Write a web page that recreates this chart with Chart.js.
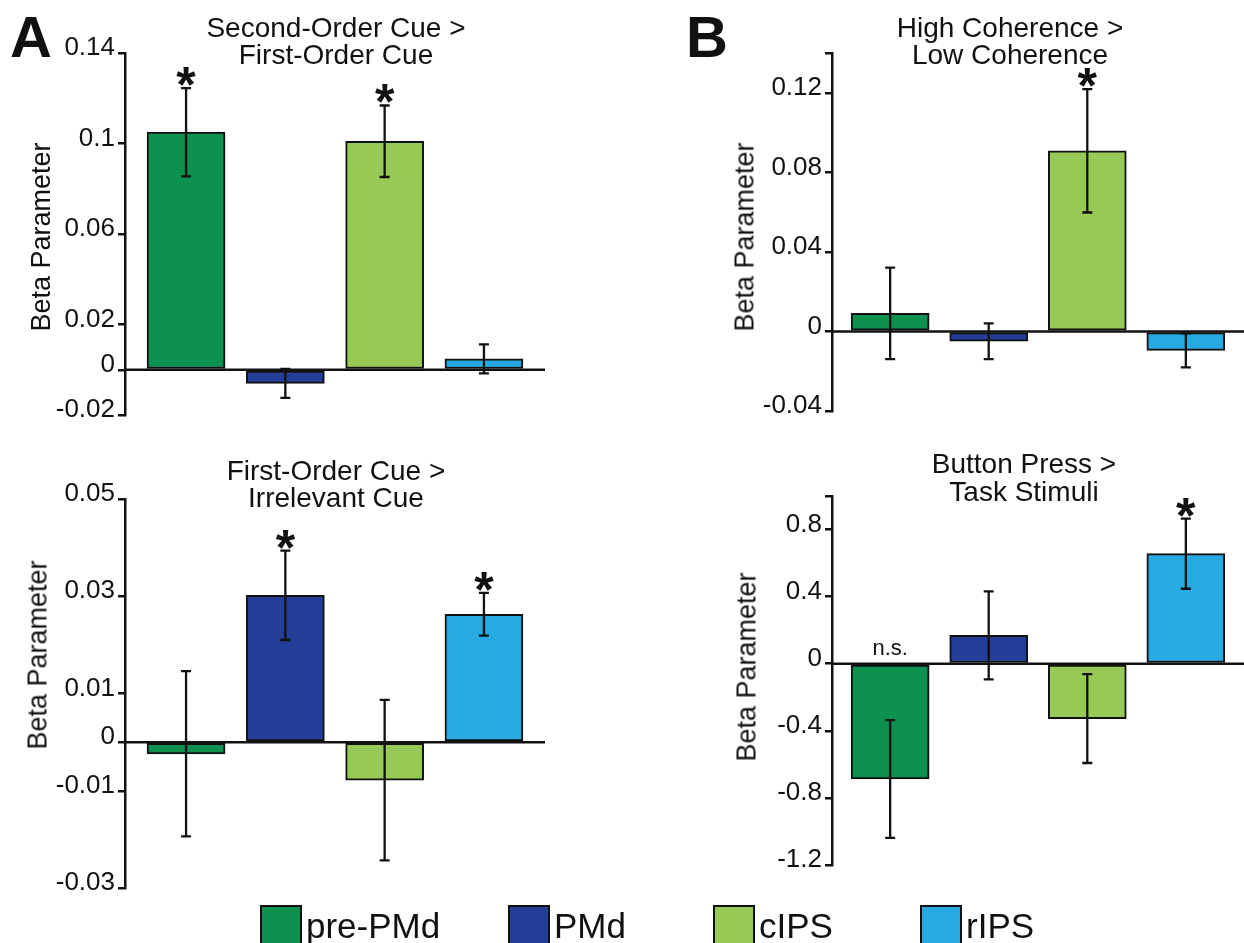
<!DOCTYPE html>
<html>
<head>
<meta charset="utf-8">
<script src="https://cdn.jsdelivr.net/npm/chart.js@4.4.1/dist/chart.umd.min.js"></script>
<style>
  html, body { margin: 0; padding: 0; background: #fff; }
  #wrap { position: relative; width: 1244px; height: 943px; overflow: hidden;
          font-family: "Liberation Sans", Arial, Helvetica, sans-serif; color: #111; }
  #wrap canvas { position: absolute; }
  .t { position: absolute; white-space: nowrap; transform: translateX(-50%); font-size: 28px; line-height: 28px; }
  .yl { position: absolute; white-space: nowrap; font-size: 27px; line-height: 27px;
        transform: translate(-50%, -50%) rotate(-90deg); }
  .pl { position: absolute; font-weight: bold; font-size: 58px; line-height: 58px; }
  .lgbox { position: absolute; width: 42px; height: 60px; border: 2px solid #111; box-sizing: border-box; }
  .lgtxt { position: absolute; white-space: nowrap; font-size: 35px; line-height: 35px; }
</style>
</head>
<body>
<div id="wrap"></div>
<script>
// ---------------- DATA ----------------
const regions = ['pre-PMd', 'PMd', 'cIPS', 'rIPS'];

// A (top): Second-Order Cue > First-Order Cue
const secondVsFirstTitle = ['Second-Order Cue >', 'First-Order Cue'];
const secondVsFirstValues = [0.105, -0.006, 0.101, 0.0048];
const secondVsFirstSem = [0.0195, 0.0064, 0.0158, 0.0064];
const secondVsFirstMarks = ['*', '', '*', ''];
const secondVsFirstTicks = [0.14, 0.1, 0.06, 0.02, 0, -0.02];
const secondVsFirstTickLabels = ['0.14', '0.1', '0.06', '0.02', '0', '-0.02'];

// A (bottom): First-Order Cue > Irrelevant Cue
const firstVsIrrelTitle = ['First-Order Cue >', 'Irrelevant Cue'];
const firstVsIrrelValues = [-0.0024, 0.0302, -0.0078, 0.0263];
const firstVsIrrelSem = [0.017, 0.0092, 0.0165, 0.0044];
const firstVsIrrelMarks = ['', '*', '', '*'];
const firstVsIrrelTicks = [0.05, 0.03, 0.01, 0, -0.01, -0.03];
const firstVsIrrelTickLabels = ['0.05', '0.03', '0.01', '0', '-0.01', '-0.03'];

// B (top): High Coherence > Low Coherence
const cohTitle = ['High Coherence >', 'Low Coherence'];
const cohValues = [0.0091, -0.0049, 0.0908, -0.0095];
const cohSem = [0.023, 0.009, 0.031, 0.0086];
const cohMarks = ['', '', '*', ''];
const cohTicks = [0.14, 0.12, 0.08, 0.04, 0, -0.04];
const cohTickLabels = ['', '0.12', '0.08', '0.04', '0', '-0.04'];

// B (bottom): Button Press > Task Stimuli
const buttonTitle = ['Button Press >', 'Task Stimuli'];
const buttonValues = [-0.687, 0.169, -0.327, 0.656];
const buttonSem = [0.351, 0.262, 0.265, 0.209];
const buttonMarks = ['n.s.', '', '', '*'];
const buttonTicks = [1.0, 0.8, 0.4, 0, -0.4, -0.8, -1.2];
const buttonTickLabels = ['', '0.8', '0.4', '0', '-0.4', '-0.8', '-1.2'];

const axisLabel = 'Beta Parameter';
const panelLetters = ['A', 'B'];

// ---------------- STYLE / LAYOUT ----------------
const regionColors = ['#0d9150', '#233f98', '#96c955', '#27aae1'];
const FAMILY = '"Liberation Sans", Arial, Helvetica, sans-serif';
const wrap = document.getElementById('wrap');

const panels = [
  { title: secondVsFirstTitle, values: secondVsFirstValues, sem: secondVsFirstSem, marks: secondVsFirstMarks,
    ticks: secondVsFirstTicks, tickLabels: secondVsFirstTickLabels,
    left: 125, right: 545, top: 53, bottom: 415, xMin: -0.615, xMax: 3.615,
    titleX: 336, titleBase: [38, 65], ylX: 41, ylY: 237 },
  { title: firstVsIrrelTitle, values: firstVsIrrelValues, sem: firstVsIrrelSem, marks: firstVsIrrelMarks,
    ticks: firstVsIrrelTicks, tickLabels: firstVsIrrelTickLabels,
    left: 125, right: 545, top: 499, bottom: 888, xMin: -0.615, xMax: 3.615,
    titleX: 336, titleBase: [481, 508], ylX: 38, ylY: 655 },
  { title: cohTitle, values: cohValues, sem: cohSem, marks: cohMarks,
    ticks: cohTicks, tickLabels: cohTickLabels,
    left: 832, right: 1244, top: 53, bottom: 411, xMin: -0.59, xMax: 3.59,
    titleX: 1010, titleBase: [38, 65], ylX: 745, ylY: 237 },
  { title: buttonTitle, values: buttonValues, sem: buttonSem, marks: buttonMarks,
    ticks: buttonTicks, tickLabels: buttonTickLabels,
    left: 832, right: 1244, top: 496, bottom: 865, xMin: -0.59, xMax: 3.59,
    titleX: 1024, titleBase: [474, 502], ylX: 747, ylY: 667 }
];

const panelPlugin = {
  id: 'panelMarks',
  afterDatasetsDraw(chart, args, opts) {
    const p = opts.panel;
    const ctx = chart.ctx, a = chart.chartArea, xs = chart.scales.x, ys = chart.scales.y;
    ctx.save();
    const y0 = ys.getPixelForValue(0);
    ctx.strokeStyle = '#111';
    ctx.lineWidth = 2.5;
    ctx.beginPath(); ctx.moveTo(a.left, y0); ctx.lineTo(a.right, y0); ctx.stroke();
    ctx.lineWidth = 2.3;
    p.values.forEach((v, i) => {
      const cx = xs.getPixelForValue(i);
      const yh = ys.getPixelForValue(v + p.sem[i]);
      const yl = ys.getPixelForValue(v - p.sem[i]);
      ctx.beginPath();
      ctx.moveTo(cx, yh); ctx.lineTo(cx, yl);
      ctx.moveTo(cx - 5, yh); ctx.lineTo(cx + 5, yh);
      ctx.moveTo(cx - 5, yl); ctx.lineTo(cx + 5, yl);
      ctx.stroke();
      const m = p.marks[i];
      if (m) {
        const top = ys.getPixelForValue(Math.max(v + p.sem[i], 0));
        ctx.fillStyle = '#111';
        ctx.textAlign = 'center';
        ctx.textBaseline = 'alphabetic';
        if (m === '*') {
          ctx.font = 'bold 50px ' + FAMILY;
          const mt = ctx.measureText('*');
          ctx.fillText('*', cx, top - 2 - mt.actualBoundingBoxDescent);
        } else {
          ctx.font = '22px ' + FAMILY;
          ctx.fillText(m, cx, top - 9);
        }
      }
    });
    ctx.restore();
  }
};

function addDiv(cls, text, style) {
  const d = document.createElement('div');
  d.className = cls;
  d.textContent = text;
  Object.assign(d.style, style);
  wrap.appendChild(d);
  return d;
}

function makePanel(p) {
  const axisW = 100, padT = 22, padB = 22, padR = 0;
  const cw = axisW + (p.right - p.left) + padR;
  const ch = padT + (p.bottom - p.top) + padB;
  const canvas = document.createElement('canvas');
  canvas.width = cw; canvas.height = ch;
  canvas.style.left = (p.left - axisW) + 'px';
  canvas.style.top = (p.top - padT) + 'px';
  canvas.style.width = cw + 'px';
  canvas.style.height = ch + 'px';
  wrap.appendChild(canvas);
  const yMin = Math.min.apply(null, p.ticks), yMax = Math.max.apply(null, p.ticks);
  new Chart(canvas, {
    type: 'bar',
    data: {
      datasets: [{
        label: p.title.join(' '),
        data: p.values.map((v, i) => ({ x: i, y: v })),
        backgroundColor: regionColors,
        borderColor: '#111',
        borderWidth: 2,
        borderSkipped: false,
        barThickness: 78
      }]
    },
    options: {
      responsive: false, animation: false, devicePixelRatio: 1,
      layout: { padding: { top: padT, bottom: padB, left: 0, right: padR } },
      plugins: { legend: { display: false }, tooltip: { enabled: false }, panelMarks: { panel: p } },
      scales: {
        x: { type: 'linear', min: p.xMin, max: p.xMax, offset: false, display: false },
        y: {
          type: 'linear', min: yMin, max: yMax,
          afterBuildTicks: s => { s.ticks = p.ticks.map(v => ({ value: v })); },
          afterFit: s => { s.width = axisW; },
          ticks: {
            callback: v => { const k = p.ticks.indexOf(v); return k >= 0 ? p.tickLabels[k] : ''; },
            font: { family: FAMILY, size: 26 }, color: '#111', padding: 3, labelOffset: -5,
            autoSkip: false, maxRotation: 0
          },
          grid: { drawOnChartArea: false, drawTicks: true, tickLength: 7, color: '#111', lineWidth: 2.5 },
          border: { display: true, color: '#111', width: 2.5 }
        }
      }
    },
    plugins: [panelPlugin]
  });

  // title lines
  p.title.forEach((line, k) => {
    addDiv('t', line, { left: p.titleX + 'px', top: (p.titleBase[k] - 24) + 'px' });
  });
  // y-axis label
  addDiv('yl', axisLabel, { left: p.ylX + 'px', top: p.ylY + 'px' });
}

panels.forEach(makePanel);

// panel letters
addDiv('pl', panelLetters[0], { left: '10px', top: (57 - 49) + 'px' });
addDiv('pl', panelLetters[1], { left: '686px', top: (57 - 49) + 'px' });

// legend
const legendBoxLeft = [260, 508, 713, 920];
regions.forEach((r, i) => {
  addDiv('lgbox', '', { left: legendBoxLeft[i] + 'px', top: '905px', background: regionColors[i] });
  addDiv('lgtxt', r, { left: (legendBoxLeft[i] + 46) + 'px', top: (938 - 30) + 'px' });
});
</script>
</body>
</html>
